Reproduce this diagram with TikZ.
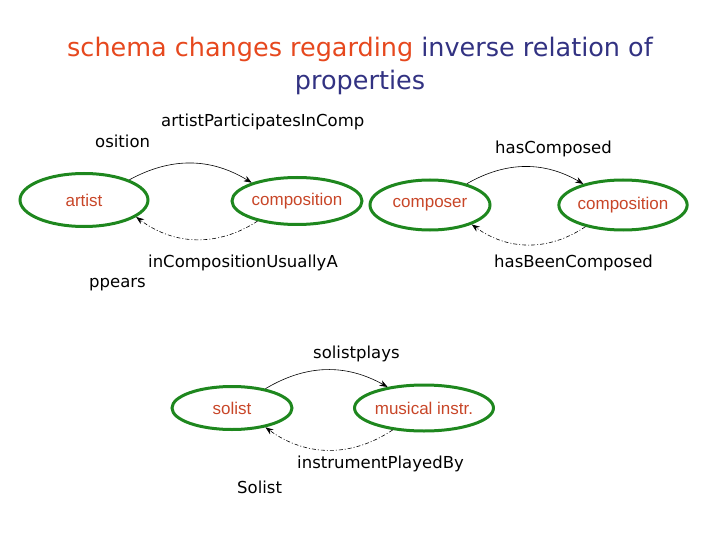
\documentclass[tikz,border=0pt]{standalone}
\usepackage{fontspec}
\setmainfont{DejaVu Sans}
\newfontfamily\nodefont{Liberation Sans}
\usetikzlibrary{arrows.meta,shapes.geometric}
\definecolor{titlered}{RGB}{230,72,30}
\definecolor{titleblue}{RGB}{50,50,130}
\definecolor{nodered}{RGB}{200,70,40}
\definecolor{ellgreen}{RGB}{30,135,30}
\tikzset{
  cls/.style={ellipse,draw=ellgreen,line width=3pt,inner sep=0pt,
    font=\nodefont\fontsize{17}{20}\selectfont,text=nodered},
  lbl/.style={anchor=base west,inner sep=0pt,font=\fontsize{16.5}{20}\selectfont},
  fwd/.style={-{Stealth[length=8pt,width=6pt]},line width=0.6pt},
  inv/.style={-{Stealth[length=8pt,width=6pt]},line width=0.6pt,dash pattern=on 4pt off 2pt on 1pt off 2pt},
}
\begin{document}
\begin{tikzpicture}[x=1pt,y=-1pt]
\useasboundingbox (0,0) rectangle (720,540);
% title
\node[anchor=base,inner sep=0pt,font=\fontsize{25.5}{30}\selectfont] (t1) at (360,57)
  {\textcolor{titlered}{schema changes regarding} \textcolor{titleblue}{inverse relation of}};
\node[anchor=base,inner sep=0pt,font=\fontsize{25.5}{30}\selectfont,text=titleblue] (t2) at (360,90) {properties};
% classes
\node[cls,minimum width=128pt,minimum height=53pt] (artist) at (84,200) {artist};
\node[cls,minimum width=130pt,minimum height=47pt] (comp1) at (297,201) {composition};
\node[cls,minimum width=120pt,minimum height=50pt] (composer) at (430,205) {composer};
\node[cls,minimum width=121pt,minimum height=50pt] (comp2) at (623,205) {composition};
\node[cls,minimum width=120pt,minimum height=43pt] (solist) at (232,408) {solist};
\node[cls,minimum width=122pt,minimum height=46pt] (instr) at (424,408) {musical instr.};
% relations
\draw[fwd] (artist.24) to[bend left=30] (comp1.158);
\draw[inv] (comp1.207) to[bend left=35] (artist.342);
\draw[fwd] (composer.30) to[bend left=30] (comp2.152);
\draw[inv] (comp2.210) to[bend left=35] (composer.335);
\draw[fwd] (solist.30) to[bend left=30] (instr.150);
\draw[inv] (instr.215) to[bend left=35] (solist.330);
% labels
\node[lbl] (l1) at (161,127) {artistParticipatesInComp};
\node[lbl] (l1b) at (95,148) {osition};
\node[lbl] (l2) at (148,267) {inCompositionUsuallyA};
\node[lbl] (l2b) at (89,287) {ppears};
\node[lbl] (l3) at (495,154) {hasComposed};
\node[lbl] (l4) at (494,267) {hasBeenComposed};
\node[lbl] (l5) at (313,358) {solistplays};
\node[lbl] (l6) at (297,468) {instrumentPlayedBy};
\node[lbl] (l6b) at (237,493) {Solist};
\end{tikzpicture}
\end{document}
